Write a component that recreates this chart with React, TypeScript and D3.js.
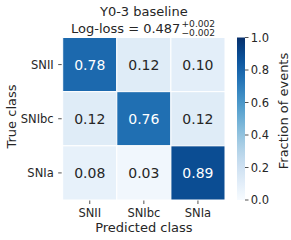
import * as d3 from "d3";

const classes = ["SNII", "SNIbc", "SNIa"];
// rows = true class, columns = predicted class
const matrix = [
  [0.78, 0.12, 0.1],
  [0.12, 0.76, 0.12],
  [0.08, 0.03, 0.89],
];
const cbarTicks = [0, 0.2, 0.4, 0.6, 0.8, 1.0];

const W = 291;
const H = 240;
const font = "'DejaVu Sans', sans-serif";
const ink = "#262626";

const App = () => {
  const left = 62.7;
  const right = 225;
  const top = 37.5;
  const bottom = 200;
  const midX = (left + right) / 2;

  const x = d3.scaleBand().domain(classes).range([left, right]);
  const y = d3.scaleBand().domain(classes).range([top, bottom]);
  const color = d3.scaleSequential(d3.interpolateBlues).domain([0, 1]);

  const cells = matrix.flatMap((row, i) => row.map((v, j) => ({ t: classes[i], p: classes[j], v })));

  // colourbar
  const cbX = 237;
  const cbW = 8;
  const cbY = d3.scaleLinear().domain([0, 1]).range([bottom, top]);
  const stops = d3.range(0, 1.0001, 0.05);

  return (
    <svg width={W} height={H} style={{ position: "absolute", left: 0, top: 0 }} fontFamily={font}>
      <defs>
        <linearGradient id="cb" x1="0" y1="1" x2="0" y2="0">
          {stops.map((s) => (
            <stop key={s} offset={s} stopColor={color(s)} />
          ))}
        </linearGradient>
      </defs>
      <rect width={W} height={H} fill="#fff" />

      {/* title */}
      <text x={midX} y={16} textAnchor="middle" fontSize={13} fill={ink}>
        Y0-3 baseline
      </text>
      <text x={71} y={32.7} fontSize={13} fill={ink}>
        Log-loss = 0.487
      </text>
      <text x={181.5} y={26.5} fontSize={9.1} fill={ink}>
        +0.002
      </text>
      <text x={181.5} y={35.6} fontSize={9.1} fill={ink}>
        −0.002
      </text>

      {/* heatmap cells */}
      {cells.map((d) => (
        <g key={d.t + d.p}>
          <rect
            x={x(d.p)!}
            y={y(d.t)!}
            width={x.bandwidth()}
            height={y.bandwidth()}
            fill={color(d.v)}
            stroke="#fff"
            strokeWidth={1}
          />
          <text
            x={x(d.p)! + x.bandwidth() / 2}
            y={y(d.t)! + y.bandwidth() / 2}
            dy="0.36em"
            textAnchor="middle"
            fontSize={14}
            fill={d.v > 0.5 ? "#fff" : ink}
          >
            {d.v.toFixed(2)}
          </text>
        </g>
      ))}

      {/* x axis */}
      {classes.map((c) => (
        <g key={"x" + c} transform={`translate(${x(c)! + x.bandwidth() / 2},${bottom})`}>
          <line y1={0.5} y2={4} stroke={ink} strokeWidth={0.8} />
          <text y={17} textAnchor="middle" fontSize={11.5} fill={ink}>
            {c}
          </text>
        </g>
      ))}
      <text x={midX} y={232} textAnchor="middle" fontSize={13} fill={ink}>
        Predicted class
      </text>

      {/* y axis */}
      {classes.map((c) => (
        <g key={"y" + c} transform={`translate(${left},${y(c)! + y.bandwidth() / 2})`}>
          <line x1={-1} x2={-4.5} stroke={ink} strokeWidth={0.8} />
          <text x={-9} dy="0.36em" textAnchor="end" fontSize={11.5} fill={ink}>
            {c}
          </text>
        </g>
      ))}
      <text
        transform={`translate(15.5,116.5) rotate(-90)`}
        textAnchor="middle"
        fontSize={13}
        fill={ink}
      >
        True class
      </text>

      {/* colourbar */}
      <rect x={cbX} y={top} width={cbW} height={bottom - top} fill="url(#cb)" />
      {cbarTicks.map((t) => (
        <g key={"c" + t} transform={`translate(${cbX + cbW},${cbY(t)})`}>
          <line x2={3.5} stroke={ink} strokeWidth={0.8} />
          <text x={5.7} dy="0.36em" fontSize={11.5} fill={ink}>
            {t.toFixed(1)}
          </text>
        </g>
      ))}
      <text
        transform={`translate(287.5,111) rotate(-90)`}
        textAnchor="middle"
        fontSize={13}
        fill={ink}
      >
        Fraction of events
      </text>
    </svg>
  );
};

export default App;
